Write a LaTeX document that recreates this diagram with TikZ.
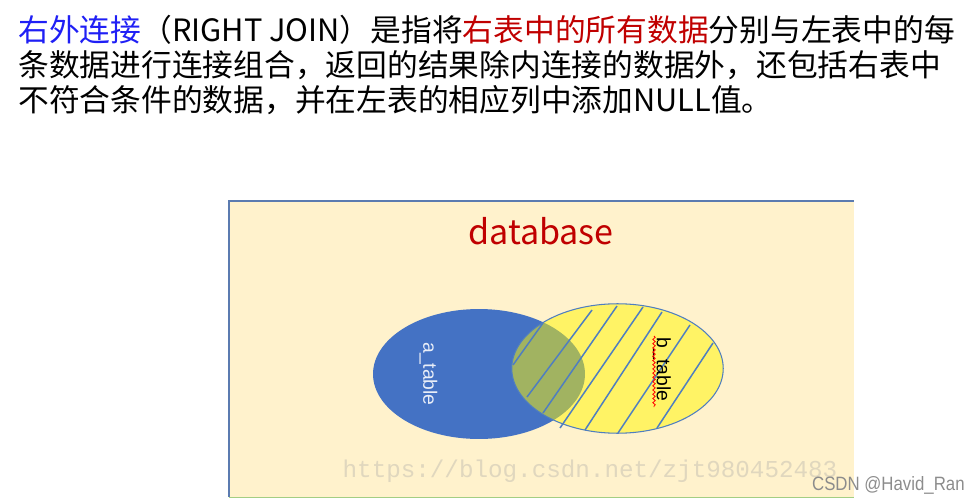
\documentclass[tikz,border=0pt]{standalone}
\usepackage{fontspec}
\usepackage{xcolor}
\usepackage{tikz}
\usetikzlibrary{arrows.meta,positioning,shapes.geometric,decorations.pathmorphing}
\newfontfamily\cjk{Noto Sans CJK SC}
\newfontfamily\wmfont{Liberation Mono}
\setsansfont{Liberation Sans}
\definecolor{joinblue}{HTML}{1F1FF5}
\definecolor{keyred}{HTML}{C00000}
\definecolor{dbfill}{HTML}{FFF2CC}
\definecolor{dbline}{HTML}{5B7BB0}
\definecolor{atabfill}{HTML}{4472C4}
\definecolor{btabfill}{HTML}{FFF500}
\definecolor{hatchblue}{HTML}{4F7EC0}
\definecolor{wmgray}{HTML}{E0D7BE}

\begin{document}
\begin{tikzpicture}[x=0.02cm, y=-0.02cm,
  intro/.style={anchor=base west, inner sep=0pt, font=\cjk\fontsize{17.5}{20}\selectfont},
  tbl/.style={ellipse, inner sep=0pt, minimum width=4.23cm, minimum height=2.59cm},
  tlabel/.style={rotate=-90, inner sep=0pt, font=\sffamily\fontsize{11}{12}\selectfont},
  hatch/.style={hatchblue, line width=0.85pt},
  squig/.style={red, line width=0.45pt, decorate, decoration={snake, amplitude=0.7pt, segment length=2.4pt}}
]
  \useasboundingbox (0,0) rectangle (970,500);
  % intro text
  \node[intro] (line1) at (18,42) {\textcolor{joinblue}{右外连接}（RIGHT JOIN）是指将\textcolor{keyred}{右表中的所有数据}分别与左表中的每};
  \node[intro] (line2) at (18,77) {条数据进行连接组合，返回的结果除内连接的数据外，还包括右表中};
  \node[intro] (line3) at (18,112) {不符合条件的数据，并在左表的相应列中添加NULL值。};
  % database box
  \fill[dbfill] (229,201) rectangle (854,497);
  \draw[dbline, line width=1.1pt] (229,497) -- (229,201) -- (854,201);
  \draw[black!20!dbfill!80!green, line width=0.5pt] (229,497) -- (854,497);
  \node[anchor=base, text=keyred, font=\cjk\fontsize{19.4}{22}\selectfont] (dbtitle) at (541,244) {database};
  % tables
  \node[tbl, fill=atabfill, minimum width=4.24cm, minimum height=2.6cm] (atab) at (479,374) {};
  \node[tlabel, text=white!88!atabfill] (alabel) at (428.5,374) {a\_table};
  \node[tbl, fill=btabfill, fill opacity=0.5] (btab) at (617.5,368.5) {};
  \node[tbl, draw=hatchblue, line width=0.6pt] at (btab.center) {};
  \foreach \xa/\ya/\xb/\yb in {513/365/543/323, 527/397/592/310, 543/413/617/306,
      560/428/643/307, 585/430/662/312, 618/433/690/325, 657/428/713/343}
    \draw[hatch] (\xa,\ya) -- (\xb,\yb);
  \node[tlabel, text=black] (blabel) at (662,369.5) {b\_table};
  \draw[squig] (654,336) -- (654,407);
  % watermarks
  \node[anchor=base, text=wmgray, font=\wmfont\fontsize{13.8}{14}\selectfont] (wmurl) at (590,477) {https://blog.csdn.net/zjt980452483};
  \node[anchor=base east, text=black!45, inner sep=0pt, xscale=0.87, font=\sffamily\fontsize{11}{12}\selectfont] (wmuser) at (965,490) {CSDN @Havid\_Ran};
\end{tikzpicture}
\end{document}
